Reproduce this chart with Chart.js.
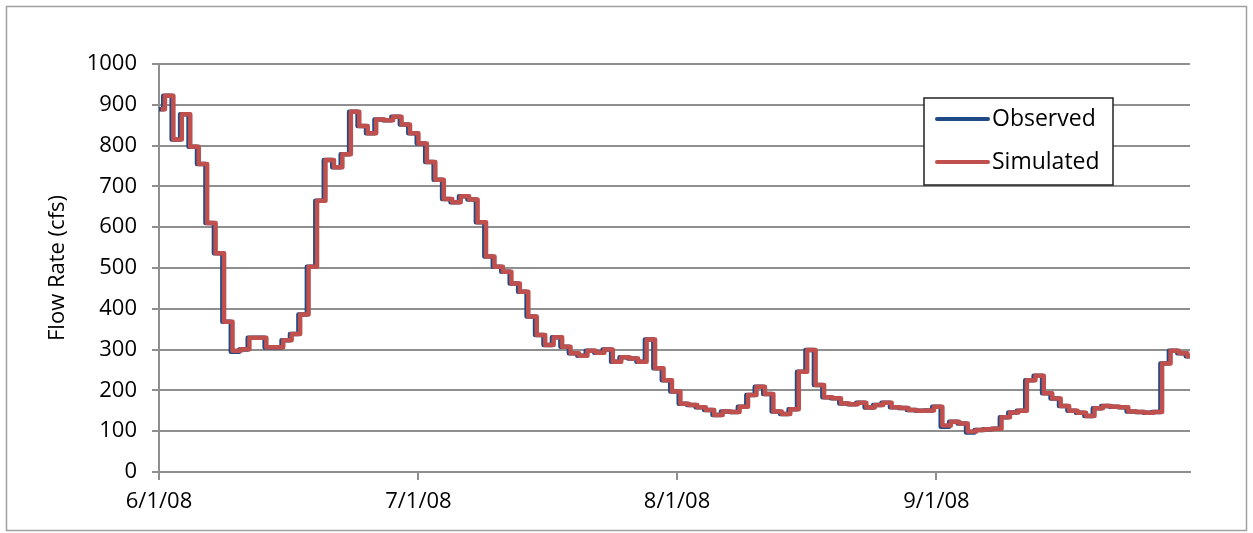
<!DOCTYPE html>
<html>
<head>
<meta charset="utf-8">
<script src="https://cdn.jsdelivr.net/npm/chart.js@4"></script>
<style>
    body { margin: 0; background: #fff; }
    #wrap { width: 1253px; height: 533px; }
</style>
</head>
<body>
<div id="wrap"><canvas id="flow_chart" width="1253" height="533"></canvas></div>
<script>
// daily flow, day 0 = 6/1/08
const observed = [
    889, 922, 815, 877, 797, 755, 610, 536, 368, 295,
    300, 329, 329, 305, 305, 323, 338, 386, 503, 665,
    765, 747, 779, 883, 848, 830, 864, 862, 871, 852,
    830, 805, 760, 716, 669, 661, 676, 668, 612, 528,
    503, 491, 462, 442, 381, 336, 311, 330, 307, 291,
    285, 297, 292, 300, 270, 281, 278, 270, 325, 254,
    225, 197, 167, 164, 159, 152, 140, 148, 147, 160,
    189, 209, 191, 148, 142, 154, 246, 299, 213, 183,
    181, 168, 166, 170, 158, 164, 170, 159, 157, 152,
    150, 151, 160, 111, 123, 119, 97, 103, 105, 106,
    134, 146, 150, 225, 236, 193, 180, 162, 150, 145,
    137, 156, 162, 160, 159, 148, 147, 145, 147, 266,
    297, 291, 284
];
const simulated = [
    889, 922, 815, 877, 797, 755, 610, 536, 368, 297,
    301, 329, 329, 306, 306, 323, 338, 386, 503, 665,
    765, 747, 779, 883, 848, 830, 864, 862, 871, 852,
    830, 805, 760, 716, 669, 661, 676, 668, 612, 528,
    503, 491, 462, 442, 381, 336, 311, 330, 307, 291,
    285, 297, 292, 300, 270, 281, 278, 270, 325, 254,
    225, 197, 167, 164, 159, 152, 140, 148, 147, 160,
    189, 209, 191, 148, 142, 154, 246, 299, 213, 183,
    181, 168, 166, 170, 158, 164, 170, 159, 157, 152,
    150, 151, 160, 114, 123, 119, 99, 103, 105, 106,
    134, 146, 150, 225, 236, 193, 180, 162, 150, 145,
    137, 156, 162, 160, 159, 148, 147, 145, 147, 266,
    297, 291, 284
];
const simLagDays = 0.2;
const tickDays = [0, 30.7, 61.3, 92];
const tickLabels = ['6/1/08', '7/1/08', '8/1/08', '9/1/08'];
const seriesNames = ['Observed', 'Simulated'];
const seriesColors = ['#1F4A85', '#C0504D'];

const font = "'Open Sans', sans-serif";
const gridGray = '#8f8f8f';

const frame = {
    id: 'frame',
    beforeDraw(chart) {
        const ctx = chart.ctx;
        ctx.save();
        ctx.fillStyle = '#fff';
        ctx.fillRect(0, 0, chart.width, chart.height);
        ctx.strokeStyle = '#a0a0a0';
        ctx.lineWidth = 1.5;
        ctx.strokeRect(6.5, 6.5, 1240, 524);
        ctx.restore();
    }
};

const boxLegend = {
    id: 'boxLegend',
    afterDraw(chart) {
        const ctx = chart.ctx;
        ctx.save();
        ctx.fillStyle = '#fff';
        ctx.fillRect(924, 98, 189, 87);
        ctx.strokeStyle = '#222';
        ctx.lineWidth = 1.5;
        ctx.strokeRect(924, 98, 189, 87);
        seriesNames.forEach((name, i) => {
            const y = 119 + i * 43;
            ctx.strokeStyle = seriesColors[i];
            ctx.lineWidth = 4;
            ctx.lineCap = 'round';
            ctx.beginPath();
            ctx.moveTo(937, y);
            ctx.lineTo(988, y);
            ctx.stroke();
            ctx.fillStyle = '#000';
            ctx.font = '23px ' + font;
            ctx.textBaseline = 'middle';
            ctx.fillText(name, 992, y);
        });
        ctx.restore();
    }
};

const ctx = document.getElementById('flow_chart').getContext('2d');
new Chart(ctx, {
    type: 'line',
    data: {
        datasets: [{
            label: 'Simulated',
            data: simulated.map((v, d) => ({ x: d + simLagDays, y: v })),
            borderColor: seriesColors[1],
            borderWidth: 4.5,
            pointRadius: 0,
            stepped: 'middle',
            borderJoinStyle: 'round'
        }, {
            label: 'Observed',
            data: observed.map((v, d) => ({ x: d, y: v })),
            borderColor: seriesColors[0],
            borderWidth: 4.5,
            pointRadius: 0,
            stepped: 'middle',
            borderJoinStyle: 'round'
        }]
    },
    options: {
        responsive: false,
        animation: false,
        layout: { padding: { left: 43, top: 64, right: 63, bottom: 0 } },
        plugins: {
            legend: { display: false },
            tooltip: { enabled: false }
        },
        scales: {
            x: {
                type: 'linear',
                min: 0,
                max: 122,
                afterBuildTicks: scale => {
                    scale.ticks = tickDays.map(v => ({ value: v }));
                },
                afterFit: scale => { scale.height = 61; },
                grid: { drawOnChartArea: false, drawTicks: true, tickLength: 8, color: gridGray, lineWidth: 2 },
                border: { color: gridGray, width: 2 },
                ticks: {
                    autoSkip: false,
                    maxRotation: 0,
                    padding: 9,
                    color: '#000',
                    font: { family: font, size: 22 },
                    callback: (v) => tickLabels[tickDays.indexOf(v)]
                }
            },
            y: {
                min: 0,
                max: 1000,
                afterFit: scale => { scale.width = 116; },
                grid: { color: gridGray, lineWidth: 2, tickLength: 7 },
                border: { color: gridGray, width: 2 },
                ticks: {
                    stepSize: 100,
                    padding: 15,
                    color: '#000',
                    font: { family: font, size: 22 },
                    callback: (v) => String(v)
                },
                title: {
                    display: true,
                    text: 'Flow Rate (cfs)',
                    color: '#000',
                    font: { family: font, size: 22 },
                    padding: 2
                }
            }
        }
    },
    plugins: [frame, boxLegend]
});
</script>
</body>
</html>
